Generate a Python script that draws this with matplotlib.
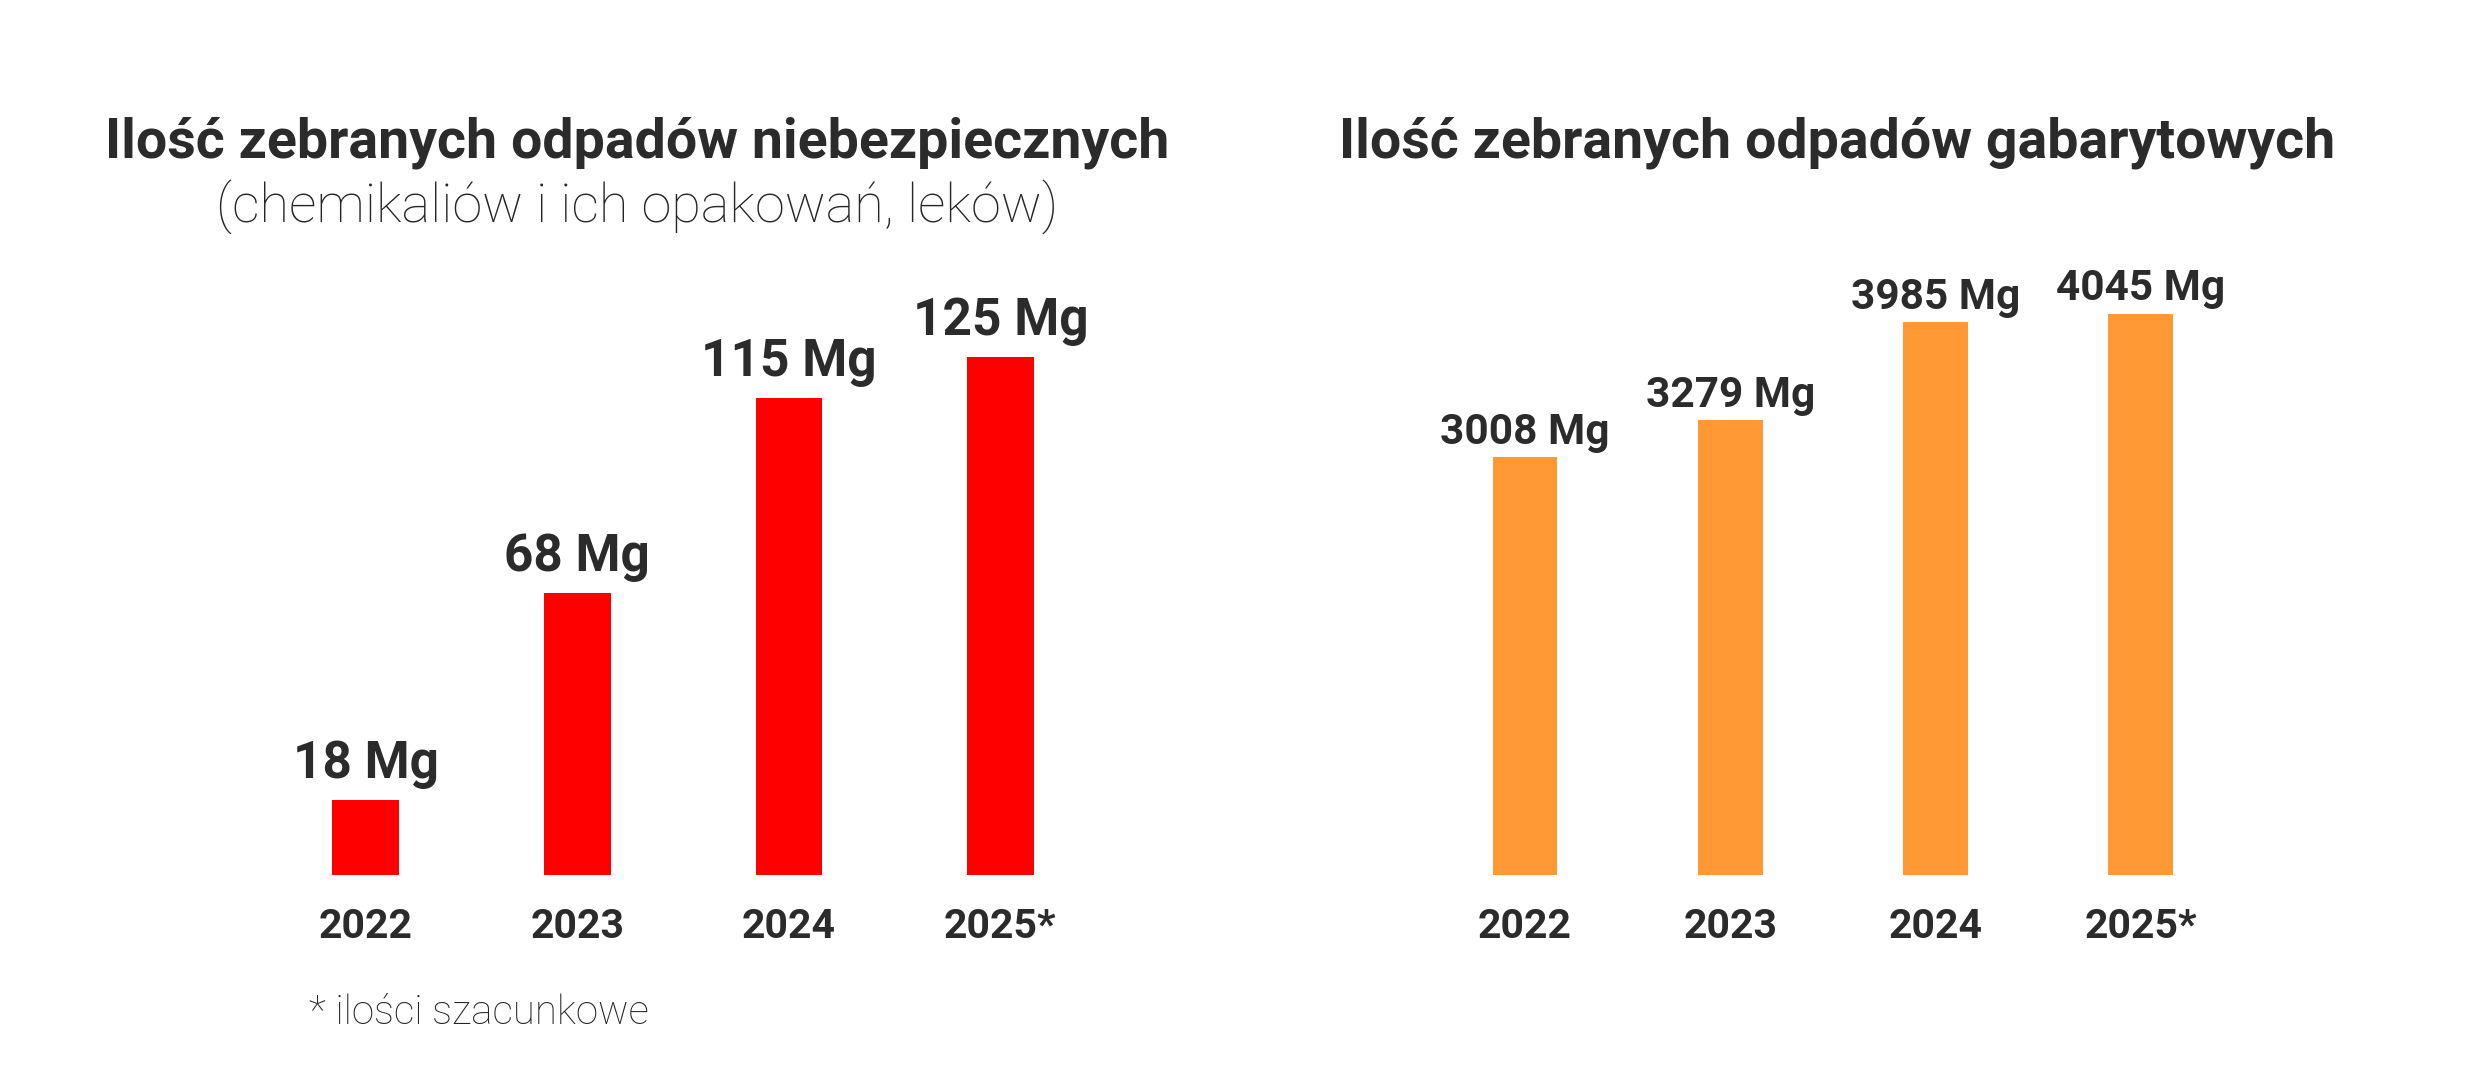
import matplotlib
matplotlib.use("Agg")
import matplotlib.pyplot as plt

years = ["2022", "2023", "2024", "2025*"]
hazardous = [18, 68, 115, 125]
bulky = [3008, 3279, 3985, 4045]
hazardous_labels = ["18 Mg", "68 Mg", "115 Mg", "125 Mg"]
bulky_labels = ["3008 Mg", "3279 Mg", "3985 Mg", "4045 Mg"]
title_left = "Ilość zebranych odpadów niebezpiecznych"
subtitle_left = "(chemikaliów i ich opakowań, leków)"
title_right = "Ilość zebranych odpadów gabarytowych"
footnote = "* ilości szacunkowe"

TEXT = "#2b2b2b"
RED = "#FF0000"
ORANGE = "#FF9933"
FONT = "Roboto"

fig = plt.figure(figsize=(24.82, 10.82), dpi=100)
fig.patch.set_facecolor("white")

axL = fig.add_axes([0.1047, 0.1915, 0.3410, 0.5892])
axR = fig.add_axes([0.5731, 0.1915, 0.3307, 0.5892])

def draw(ax, vals, labels, color, ytop, fs, off):
    x = range(len(vals))
    bars = ax.bar(x, vals, width=0.315, color=color, zorder=2)
    ax.set_xlim(-0.5, len(vals) - 0.5)
    ax.set_ylim(0, ytop)
    for b, lab in zip(bars, labels):
        ax.annotate(lab, (b.get_x() + b.get_width() / 2, b.get_height()),
                    xytext=(0, off), textcoords="offset points",
                    ha="center", va="bottom", fontsize=fs,
                    fontweight="bold", color=TEXT, family=FONT)
    ax.set_xticks(list(x))
    ax.set_xticklabels(years, fontsize=29.5, fontweight="bold", color=TEXT, family=FONT)
    ax.tick_params(axis="x", length=0, pad=24)
    ax.set_yticks([])
    for s in ax.spines.values():
        s.set_visible(False)
    ax.patch.set_alpha(0)

draw(axL, hazardous, hazardous_labels, RED, 153.8, 37, 8)
draw(axR, bulky, bulky_labels, ORANGE, 4595, 30.5, 3)

fig.text(0.2567, 0.868, title_left, ha="center", va="center", fontsize=40,
         fontweight="bold", color=TEXT, family=FONT)
fig.text(0.2567, 0.808, subtitle_left, ha="center", va="center", fontsize=39,
         fontweight="light", color="#262626", family=FONT)
fig.text(0.7401, 0.868, title_right, ha="center", va="center", fontsize=40,
         fontweight="bold", color=TEXT, family=FONT)
fig.text(0.1244, 0.064, footnote, ha="left", va="center", fontsize=29,
         fontweight="light", color="#262626", family=FONT)

fig.savefig("out.png", dpi=100, facecolor="white")
